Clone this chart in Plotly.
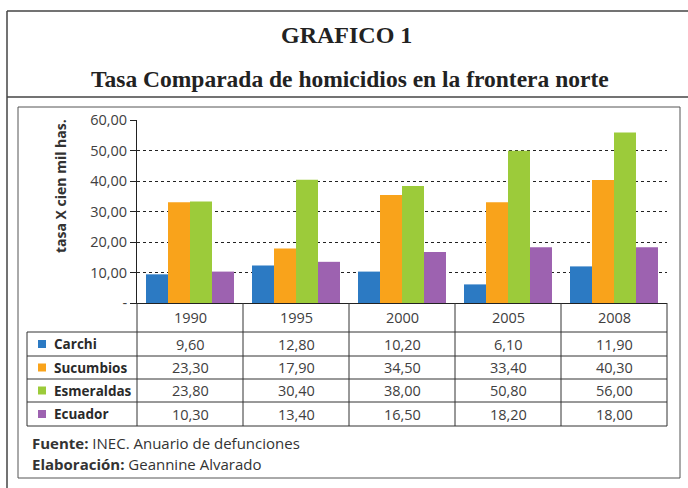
import plotly.graph_objects as go

# ---------------- data ----------------
years = ["1990", "1995", "2000", "2005", "2008"]
series_names = ["Carchi", "Sucumbios", "Esmeraldas", "Ecuador"]
# bar heights as drawn in the chart
carchi_bars = [9.4, 12.3, 10.3, 6.1, 12.0]
sucumbios_bars = [33.0, 17.9, 35.4, 33.0, 40.3]
esmeraldas_bars = [33.3, 40.4, 38.4, 49.9, 55.9]
ecuador_bars = [10.3, 13.5, 16.7, 18.3, 18.3]
# values printed in the data table
carchi_table = ["9,60", "12,80", "10,20", "6,10", "11,90"]
sucumbios_table = ["23,30", "17,90", "34,50", "33,40", "40,30"]
esmeraldas_table = ["23,80", "30,40", "38,00", "50,80", "56,00"]
ecuador_table = ["10,30", "13,40", "16,50", "18,20", "18,00"]
y_tick_vals = [0, 10, 20, 30, 40, 50, 60]
y_tick_text = ["-", "10,00", "20,00", "30,00", "40,00", "50,00", "60,00"]
colors = ["#2C7AC3", "#F9A31B", "#9CCB3A", "#9D62B0"]

W, H = 688, 488
L, R, T, B = 137, 667, 120, 303  # plot area in pixels

def px(x):
    return (x - L) / (R - L)

def py(y):
    return (B - y) / (B - T)

bars = [carchi_bars, sucumbios_bars, esmeraldas_bars, ecuador_bars]
tables = [carchi_table, sucumbios_table, esmeraldas_table, ecuador_table]

fig = go.Figure()
for name, vals, col in zip(series_names, bars, colors):
    fig.add_trace(go.Bar(x=years, y=vals, name=name, marker=dict(color=col, line=dict(width=0))))

shapes = []
annotations = []
LC = "#333333"

def hline(x0, x1, y, color=LC, w=1):
    shapes.append(dict(type="line", xref="paper", yref="paper", x0=px(x0), x1=px(x1),
                       y0=py(y), y1=py(y), line=dict(color=color, width=w)))

def vline(x, y0, y1, color=LC, w=1):
    shapes.append(dict(type="line", xref="paper", yref="paper", x0=px(x), x1=px(x),
                       y0=py(y0), y1=py(y1), line=dict(color=color, width=w)))

# outer frame
vline(7, 11, 495, "#444444", 1.5)
hline(7, 700, 11, "#444444", 1.5)
hline(7, 700, 97, "#444444", 1.5)
# inner image frame
hline(18, 680, 107, "#555555", 1)
hline(18, 680, 478, "#555555", 1)
vline(18, 107, 478, "#555555", 1)
vline(680, 107, 478, "#555555", 1)

# data table grid
row_edges = [303, 332, 356, 379, 402, 426]
n = len(years)
col_w = (R - L) / n
for yy in row_edges[1:]:
    hline(27, R, yy)
vline(27, 332, 426)
for k in range(n + 1):
    vline(L + k * col_w, 303, 426)

fontc = "Open Sans"
VAL = 14.5
for k, yr in enumerate(years):
    cx = px(L + (k + 0.5) * col_w)
    annotations.append(dict(x=cx, y=py((row_edges[0] + row_edges[1]) / 2), xref="paper", yref="paper",
                            text=yr, showarrow=False, font=dict(family=fontc, size=VAL, color="#404040"),
                            xanchor="center", yanchor="middle"))
for r, (name, tv, col) in enumerate(zip(series_names, tables, colors)):
    cy = (row_edges[r + 1] + row_edges[r + 2]) / 2
    shapes.append(dict(type="rect", xref="paper", yref="paper", x0=px(38), x1=px(46),
                       y0=py(cy + 4), y1=py(cy - 4), fillcolor=col, line=dict(width=0)))
    annotations.append(dict(x=px(52), y=py(cy), xref="paper", yref="paper", text="<b>" + name + "</b>",
                            showarrow=False, font=dict(family=fontc, size=13.5, color="#2a2a2a"),
                            xanchor="left", yanchor="middle"))
    for k, t in enumerate(tv):
        cx = px(L + (k + 0.5) * col_w)
        annotations.append(dict(x=cx, y=py(cy), xref="paper", yref="paper", text=t, showarrow=False,
                                font=dict(family=fontc, size=VAL, color="#404040"),
                                xanchor="center", yanchor="middle"))

# titles
annotations.append(dict(x=px(346), y=py(35), xref="paper", yref="paper", text="<b>GRAFICO 1</b>",
                        showarrow=False, font=dict(family="Liberation Serif", size=24, color="#222222"),
                        xanchor="center", yanchor="middle"))
annotations.append(dict(x=px(350), y=py(79), xref="paper", yref="paper",
                        text="<b>Tasa Comparada de homicidios en la frontera norte</b>",
                        showarrow=False, font=dict(family="Liberation Serif", size=23.5, color="#222222"),
                        xanchor="center", yanchor="middle"))
# y axis title
annotations.append(dict(x=px(60), y=py(186), xref="paper", yref="paper", text="<b>tasa X cien mil has.</b>",
                        showarrow=False, textangle=-90, font=dict(family=fontc, size=14, color="#333333"),
                        xanchor="center", yanchor="middle"))
# footnotes
annotations.append(dict(x=px(30), y=py(443), xref="paper", yref="paper",
                        text="<b>Fuente:</b> INEC. Anuario de defunciones",
                        showarrow=False, font=dict(family=fontc, size=15, color="#333333"),
                        xanchor="left", yanchor="middle"))
annotations.append(dict(x=px(30), y=py(464), xref="paper", yref="paper",
                        text="<b>Elaboración:</b> Geannine Alvarado",
                        showarrow=False, font=dict(family=fontc, size=15, color="#333333"),
                        xanchor="left", yanchor="middle"))

fig.update_layout(
    width=W, height=H,
    margin=dict(l=L, r=W - R, t=T, b=H - B, pad=0),
    paper_bgcolor="white", plot_bgcolor="white",
    barmode="group", bargap=0.17, bargroupgap=0.0,
    showlegend=False,
    shapes=shapes, annotations=annotations,
    xaxis=dict(showticklabels=False, ticks="", showgrid=False, showline=True,
               linecolor="#222222", linewidth=1, fixedrange=True),
    yaxis=dict(range=[0, 60], tickvals=y_tick_vals, ticktext=y_tick_text, ticks="outside",
               ticklen=6, tickcolor="#222222", showline=True, linecolor="#222222", linewidth=1,
               showgrid=True, gridcolor="#222222", gridwidth=1, griddash="dot", zeroline=False,
               tickfont=dict(family=fontc, size=VAL, color="#404040"), fixedrange=True),
)

fig.write_html("out.html", config={"displayModeBar": False},
               post_script="document.body.style.margin='0px';")
